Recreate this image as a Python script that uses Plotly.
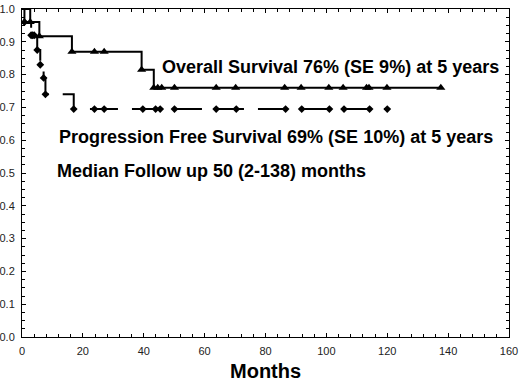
import numpy as np
import plotly.graph_objects as go

# Overall survival step function (months, survival)
os_time = [0, 2.7, 5.7, 16.4, 39.3, 43.3, 137.6]
os_surv = [1.0, 0.96, 0.917, 0.87, 0.815, 0.76, 0.76]
os_marks = [2.7, 5.7, 16.4, 23.8, 27.0, 39.3, 43.3, 44.6, 45.9, 50.1, 63.8,
            70.2, 86.3, 91.7, 100.8, 105.5, 113.2, 114.0, 119.9, 137.6]

# Progression free survival step function
pfs_time = [0, 0.8, 3.0, 5.0, 6.0, 7.1, 7.7, 17.0, 120.0]
pfs_surv = [1.0, 0.96, 0.92, 0.875, 0.83, 0.79, 0.74, 0.695, 0.695]
pfs_marks = [0.8, 3.0, 3.5, 4.0, 5.0, 6.0, 7.1, 7.7, 17.0, 23.8, 27.0, 39.7,
             43.9, 45.4, 50.1, 63.8, 70.4, 86.6, 91.9, 101.0, 105.8, 114.2, 120.0]

x_ticks = [0, 20, 40, 60, 80, 100, 120, 140, 160]
y_ticks = [0.0, 0.1, 0.2, 0.3, 0.4, 0.5, 0.6, 0.7, 0.8, 0.9, 1.0]

texts = ["Overall Survival 76% (SE 9%) at 5 years",
         "Progression Free Survival 69% (SE 10%) at 5 years",
         "Median Follow up 50 (2-138) months"]
x_title = "Months"


def lookup(times, surv, marks):
    t = np.array(times)
    s = np.array(surv)
    idx = np.searchsorted(t, np.array(marks), side="right") - 1
    return s[idx]


fig = go.Figure()
fig.add_trace(go.Scatter(x=os_time, y=os_surv, mode="lines", line_shape="hv",
                         line=dict(color="black", width=2), showlegend=False))
fig.add_trace(go.Scatter(x=os_marks, y=lookup(os_time, os_surv, os_marks), mode="markers",
                         marker=dict(symbol="triangle-up", size=8, color="black"), showlegend=False))
fig.add_trace(go.Scatter(x=pfs_time, y=pfs_surv, mode="lines", line_shape="hv",
                         line=dict(color="black", width=2, dash="28px,14px"), showlegend=False))
fig.add_trace(go.Scatter(x=pfs_marks, y=lookup(pfs_time, pfs_surv, pfs_marks), mode="markers",
                         marker=dict(symbol="diamond", size=6, color="black"), showlegend=False))

font_txt = dict(family="Liberation Sans, Arial", size=18, color="black")
fig.add_annotation(x=45.2, y=0.823, text="<b>" + texts[0] + "</b>", showarrow=False,
                   xanchor="left", yanchor="middle", font=font_txt)
fig.add_annotation(x=11.6, y=0.61, text="<b>" + texts[1] + "</b>", showarrow=False,
                   xanchor="left", yanchor="middle", font=font_txt)
fig.add_annotation(x=11.0, y=0.506, text="<b>" + texts[2] + "</b>", showarrow=False,
                   xanchor="left", yanchor="middle", font=font_txt)
fig.add_annotation(xref="paper", yref="paper", x=0.5, y=0, yshift=-34,
                   text="<b>" + x_title + "</b>", showarrow=False,
                   xanchor="center", yanchor="middle",
                   font=dict(family="Liberation Sans, Arial", size=20, color="black"))

tickfont = dict(family="Liberation Sans, Arial", size=11, color="#222")
fig.update_xaxes(range=[0, 160], tickvals=x_ticks, ticktext=[str(v) for v in x_ticks],
                 ticks="inside", ticklen=4, tickcolor="black", showline=True, linecolor="black",
                 linewidth=1, mirror="allticks", showgrid=False, zeroline=False,
                 tickfont=tickfont, ticklabelstandoff=4, automargin=False,
                 minor=dict(dtick=4, tick0=0, ticks="inside", ticklen=3, tickcolor="black", showgrid=False))
fig.update_yaxes(range=[0, 1], tickvals=y_ticks, ticktext=["%.1f" % v for v in y_ticks],
                 ticks="inside", ticklen=4, tickcolor="black", showline=True, linecolor="black",
                 linewidth=1, mirror="allticks", showgrid=False, zeroline=False,
                 tickfont=tickfont, ticklabelstandoff=4, automargin=False,
                 minor=dict(dtick=0.025, tick0=0, ticks="inside", ticklen=3, tickcolor="black", showgrid=False))

fig.update_layout(width=520, height=384, margin=dict(l=22, r=11, t=9, b=47),
                  plot_bgcolor="white", paper_bgcolor="white")
fig.write_html("out.html", config={"displayModeBar": False},
               post_script="document.body.style.margin='0';document.body.style.overflow='hidden';")
